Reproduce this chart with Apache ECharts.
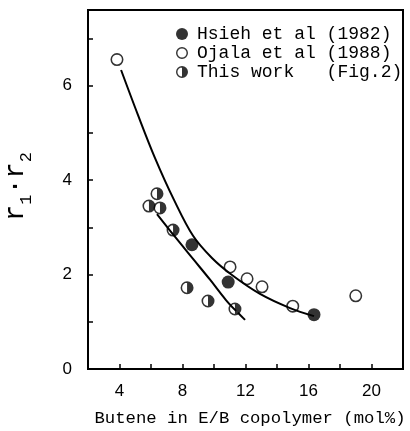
<!DOCTYPE html>
<html><head><meta charset="utf-8">
<script src="https://cdn.jsdelivr.net/npm/echarts@6/dist/echarts.min.js"></script>
<style>html,body{margin:0;padding:0;background:#fff}#c{width:410px;height:431px}</style>
</head><body><div id="c"></div>
<script>
const seriesNames = ['Hsieh et al (1982)', 'Ojala et al (1988)', 'This work   (Fig.2)'];
const hsieh = [[8.6,2.63],[10.9,1.84],[16.35,1.15]];
const ojala = [[3.84,6.55],[11.02,2.16],[12.1,1.91],[13.05,1.74],[15.0,1.33],[19.0,1.55]];
const thisWork = [[5.87,3.45],[6.38,3.71],[6.57,3.41],[7.4,2.94],[8.29,1.72],[9.62,1.44],[11.33,1.27]];
const upperCurve = [[4.1,6.33],[5.17,5.38],[6.25,4.47],[7.46,3.58],[8.67,2.82],[9.87,2.35],[11.14,1.99],[12.92,1.59],[14.83,1.29],[16.35,1.12]];
const lowerCurve = [[6.38,3.28],[7.52,2.80],[8.67,2.33],[9.75,1.89],[10.76,1.46],[11.4,1.23]];
const lowerTail = [[11.52,1.19],[11.97,1.04]];
const xTickLabels = [4,8,12,16,20];
const yTickLabels = [0,2,4,6];

const ring = 'path://M0,-10 A10,10 0 1 1 0,10 A10,10 0 1 1 0,-10 Z M0,-7.6 A7.6,7.6 0 1 0 0,7.6 A7.6,7.6 0 1 0 0,-7.6 Z';
const half = ring + ' M0,-10 A10,10 0 0 1 0,10 Z';

const chart = echarts.init(document.getElementById('c'));
const lineStyle = {color:'#000', width:2};
chart.setOption({
  animation:false,
  backgroundColor:'#fff',
  grid:{left:88, right:7, top:10, bottom:62, containLabel:false, outerBoundsMode:'none',
    show:true, borderColor:'#000', borderWidth:2},
  legend:{
    orient:'vertical', left:171, top:20, itemWidth:12, itemHeight:12, itemGap:1,
    textStyle:{fontFamily:'Liberation Mono', fontSize:18, color:'#000', lineHeight:15.5, padding:[0,0,0,4]},
    data:[{name:seriesNames[0], icon:'circle'},{name:seriesNames[1], icon:ring},{name:seriesNames[2], icon:half}]
  },
  xAxis:{
    type:'value', min:2, max:22, interval:2,
    axisLine:{lineStyle:{color:'#000', width:2}},
    axisTick:{inside:true, length:5, lineStyle:{color:'#000', width:1.5}},
    splitLine:{show:false},
    axisLabel:{fontFamily:'Liberation Sans', fontSize:17, color:'#000', margin:14,
      formatter:v => xTickLabels.includes(v) ? String(v) : ''},
    name:'Butene in E/B copolymer (mol%)', nameLocation:'middle', nameGap:41,
    nameTextStyle:{fontFamily:'Liberation Mono', fontSize:17.3, color:'#000', padding:[0,0,0,9]}
  },
  yAxis:{
    type:'value', min:0, max:7.6, interval:1,
    axisLine:{lineStyle:{color:'#000', width:2}},
    axisTick:{inside:true, length:5, lineStyle:{color:'#000', width:1.5}},
    splitLine:{show:false},
    axisLabel:{fontFamily:'Liberation Sans', fontSize:17, color:'#000', margin:16,
      formatter:v => yTickLabels.includes(v) ? String(v) : ''},
    name:'{r|r}{s|1}{r|·r}{s|2}', nameLocation:'middle', nameRotate:90, nameGap:53,
    nameTextStyle:{color:'#000', padding:[0,0,0,6], rich:{
      r:{fontFamily:'Liberation Mono', fontSize:27, lineHeight:27, verticalAlign:'bottom', padding:[0,0,6,0], color:'#000'},
      s:{fontFamily:'Liberation Mono', fontSize:17, lineHeight:17, verticalAlign:'bottom', color:'#000'}
    }}
  },
  series:[
    {type:'line', data:upperCurve, smooth:0.35, symbol:'none', lineStyle, z:2, silent:true},
    {type:'line', data:lowerCurve, smooth:0.35, symbol:'none', lineStyle, z:2, silent:true},
    {type:'line', data:lowerTail, symbol:'none', lineStyle, z:2, silent:true},
    {name:seriesNames[0], type:'scatter', data:hsieh, symbol:'circle', symbolSize:13, itemStyle:{color:'#000'}, z:3},
    {name:seriesNames[1], type:'scatter', data:ojala, symbol:ring, symbolSize:13, itemStyle:{color:'#000'}, z:3},
    {name:seriesNames[2], type:'scatter', data:thisWork, symbol:half, symbolSize:13, itemStyle:{color:'#000'}, z:3}
  ]
});
</script></body></html>
